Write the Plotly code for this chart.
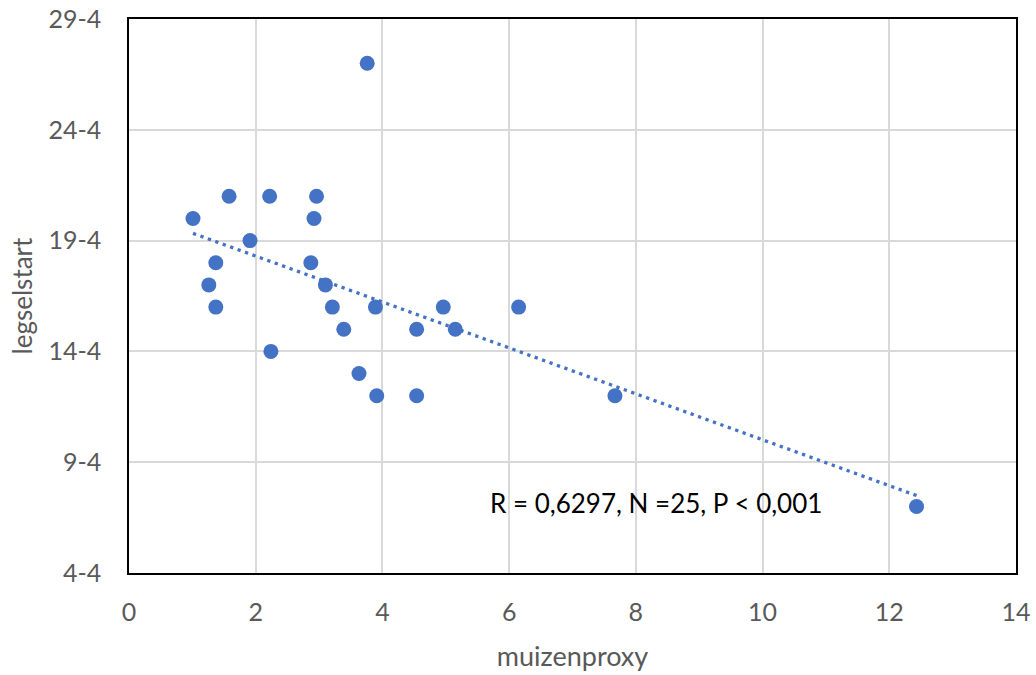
import numpy as np
import plotly.graph_objects as go

# muizenproxy (x) and legselstart (day of April, y)
muizenproxy = [1.01, 1.58, 2.22, 2.96, 2.92, 1.91, 1.37, 2.87, 1.26, 3.10,
               1.37, 3.21, 3.89, 4.96, 6.15, 3.39, 4.54, 5.15, 2.24, 3.63,
               3.91, 4.54, 7.67, 3.76, 12.43]
legselstart = [20, 21, 21, 21, 20, 19, 18, 18, 17, 17,
               16, 16, 16, 16, 16, 15, 15, 15, 14, 13,
               12, 12, 12, 27, 7]

y_tickvals = [4, 9, 14, 19, 24, 29]
y_ticktext = ["4-4", "9-4", "14-4", "19-4", "24-4", "29-4"]
x_tickvals = [0, 2, 4, 6, 8, 10, 12, 14]

annotation_text = "R = 0,6297, N =25, P < 0,001"
annotation_x = 5.67
annotation_y = 7.16

x = np.array(muizenproxy)
y = np.array(legselstart, dtype=float)
slope, intercept = np.polyfit(x, y, 1)
tx = np.array([x.min(), x.max()])
ty = slope * tx + intercept

blue = "#4472C4"
fig = go.Figure()
fig.add_trace(go.Scatter(x=tx, y=ty, mode="lines",
                         line=dict(color=blue, width=3.3, dash="3.3px,4.6px"),
                         hoverinfo="skip", showlegend=False))
fig.add_trace(go.Scatter(x=x, y=y, mode="markers",
                         marker=dict(color=blue, size=15, line=dict(width=0)),
                         showlegend=False))

fig.add_annotation(x=annotation_x, y=annotation_y, xref="x", yref="y", text=annotation_text,
                   showarrow=False, font=dict(family="Lato", size=26, color="#000000"),
                   xanchor="left", yanchor="middle")

fig.update_layout(
    width=1036, height=675,
    margin=dict(l=129, r=20, t=19, b=102),
    plot_bgcolor="white", paper_bgcolor="white",
    font=dict(family="Lato", color="#595959", size=25),
    xaxis=dict(range=[0, 14], tickvals=x_tickvals, showgrid=True,
               gridcolor="#D9D9D9", gridwidth=2, zeroline=False,
               showline=True, linecolor="#000000", linewidth=1.5, mirror=True,
               ticks="outside", ticklen=16, tickcolor="rgba(0,0,0,0)",
               automargin=False, ticklabeloverflow="allow",
               title=dict(text="muizenproxy", font=dict(size=27, color="#595959"), standoff=22),
               tickfont=dict(size=25, color="#595959")),
    yaxis=dict(range=[4, 29], tickvals=y_tickvals, ticktext=y_ticktext, showgrid=True,
               gridcolor="#D9D9D9", gridwidth=2, zeroline=False,
               showline=True, linecolor="#000000", linewidth=1.5, mirror=True,
               ticks="outside", ticklen=21, tickcolor="rgba(0,0,0,0)",
               automargin=False, ticklabeloverflow="allow",
               title=dict(text="legselstart", font=dict(size=26, color="#595959"), standoff=8),
               tickfont=dict(size=25, color="#595959")),
)
fig.write_html("out.html", config={"displayModeBar": False},
               post_script="document.body.style.margin='0px';")
